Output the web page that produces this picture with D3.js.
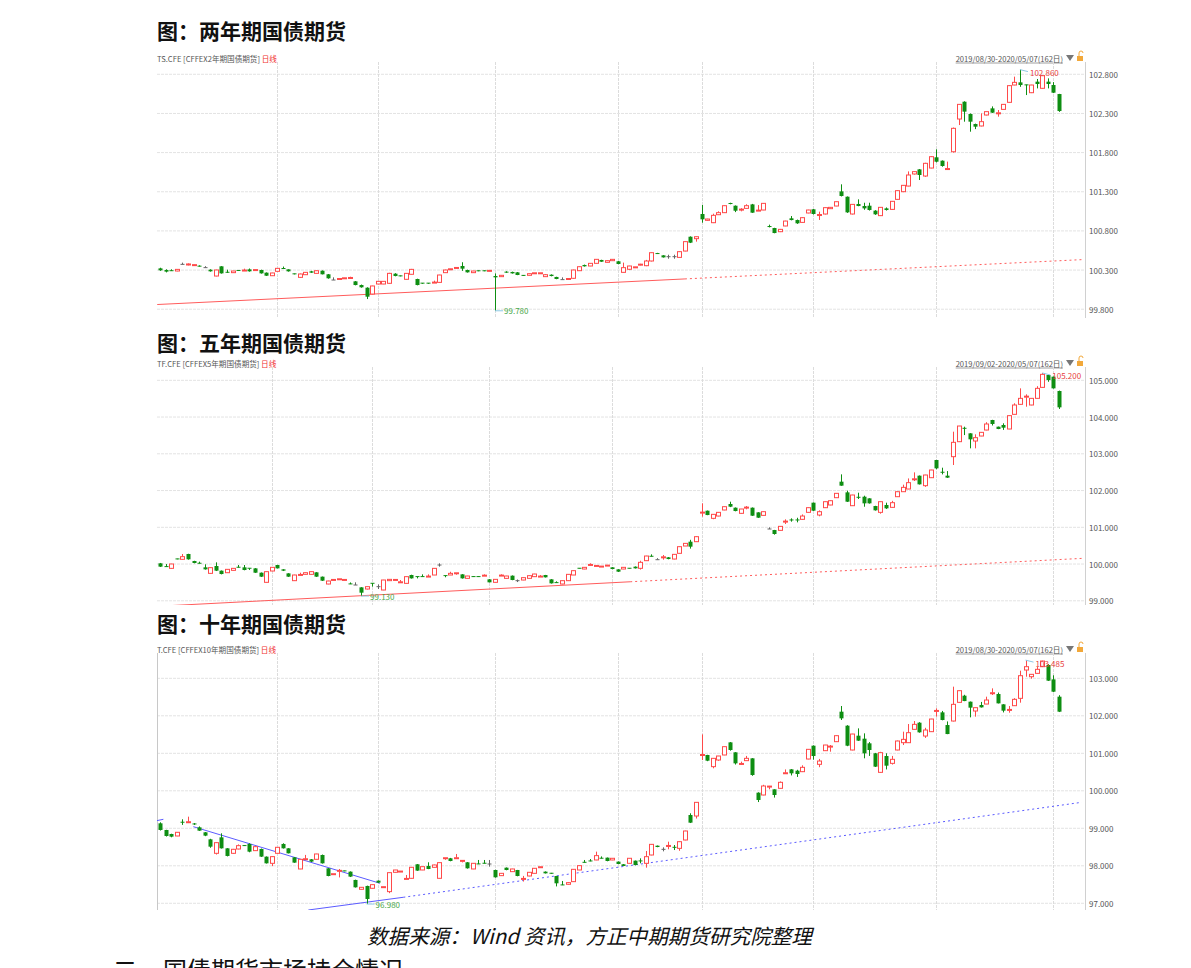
<!DOCTYPE html>
<html lang="zh">
<head>
<meta charset="UTF-8">
<script src="https://d3js.org/d3.v7.min.js"></script>
<title>国债期货日线</title>
<style>
  body { margin: 0; background: #fff; }
  svg text { font-family: "Noto Sans CJK SC", "Noto Sans", sans-serif; }
</style>
</head>
<body>
<script type="text/javascript">

// ---------- data ----------
var tsOpen = [100.322,100.301,100.292,100.288,100.373,100.365,100.360,100.350,100.331,100.305,
100.224,100.348,100.272,100.267,100.295,100.290,100.309,100.296,100.301,100.267,
100.228,100.284,100.320,100.309,100.252,100.207,100.241,100.284,100.258,100.292,
100.246,100.173,100.183,100.192,100.197,100.156,100.109,100.075,99.994,100.122,
100.122,100.131,100.254,100.226,100.182,100.246,100.186,100.133,100.133,100.136,
100.143,100.267,100.307,100.324,100.352,100.301,100.267,100.291,100.291,100.287,
100.224,100.216,100.280,100.276,100.271,100.232,100.233,100.256,100.256,100.216,
100.241,100.212,100.178,100.183,100.195,100.292,100.365,100.352,100.386,100.429,
100.399,100.420,100.412,100.271,100.310,100.332,100.366,100.356,100.416,100.511,
100.488,100.471,100.471,100.462,100.543,100.726,100.701,101.016,100.935,100.905,
101.007,101.033,101.150,101.122,101.069,101.088,101.139,101.056,101.067,100.856,
100.837,100.790,100.863,100.961,100.939,100.909,101.029,101.076,100.999,101.016,
101.084,101.118,101.305,101.237,101.016,101.144,101.118,101.122,101.059,100.995,
101.088,101.075,101.203,101.301,101.373,101.527,101.586,101.501,101.603,101.740,
101.697,101.585,101.811,102.229,102.450,102.293,102.165,102.140,102.280,102.365,
102.299,102.352,102.442,102.663,102.697,102.665,102.565,102.706,102.621,102.706,
102.663,102.548];
var tsClose = [100.297,100.280,100.288,100.309,100.373,100.378,100.363,100.347,100.331,100.284,
100.301,100.258,100.269,100.288,100.292,100.294,100.284,100.300,100.258,100.228,
100.263,100.322,100.316,100.284,100.248,100.250,100.271,100.267,100.292,100.246,
100.195,100.173,100.186,100.195,100.199,100.109,100.080,99.960,100.097,100.156,
100.156,100.258,100.224,100.222,100.258,100.309,100.109,100.129,100.129,100.140,
100.237,100.301,100.310,100.327,100.318,100.271,100.288,100.288,100.288,100.290,
100.207,100.233,100.267,100.258,100.237,100.228,100.254,100.259,100.259,100.241,
100.224,100.186,100.178,100.186,100.301,100.343,100.348,100.386,100.437,100.407,
100.420,100.437,100.378,100.331,100.352,100.335,100.369,100.416,100.522,100.507,
100.462,100.471,100.471,100.535,100.663,100.650,100.726,100.948,100.952,100.999,
101.033,101.122,101.146,101.058,101.072,101.122,101.033,101.059,101.152,100.852,
100.773,100.820,100.926,100.939,100.897,100.969,101.067,101.016,101.003,101.097,
101.101,101.173,101.246,101.037,101.139,101.118,101.088,101.067,101.012,101.101,
101.067,101.178,101.314,101.382,101.514,101.557,101.514,101.663,101.748,101.684,
101.629,101.590,102.110,102.416,102.323,102.195,102.131,102.195,102.323,102.310,
102.302,102.416,102.655,102.697,102.663,102.663,102.663,102.676,102.782,102.676,
102.565,102.331];
var tsHigh = [100.33,100.31,100.31,100.31,100.395,100.385,100.37,100.36,100.35,100.31,
100.305,100.35,100.305,100.29,100.30,100.318,100.32,100.305,100.305,100.27,
100.265,100.325,100.345,100.31,100.255,100.255,100.275,100.29,100.295,100.295,
100.25,100.207,100.19,100.20,100.215,100.16,100.115,100.08,100.10,100.16,
100.16,100.265,100.26,100.23,100.26,100.315,100.19,100.135,100.135,100.165,
100.24,100.305,100.315,100.33,100.40,100.305,100.29,100.295,100.295,100.295,
100.258,100.235,100.285,100.28,100.275,100.235,100.256,100.26,100.26,100.25,
100.245,100.215,100.207,100.19,100.305,100.346,100.37,100.39,100.44,100.432,
100.422,100.44,100.415,100.395,100.355,100.34,100.38,100.43,100.525,100.52,
100.49,100.496,100.496,100.54,100.665,100.73,100.728,101.131,100.955,101.02,
101.05,101.125,101.16,101.125,101.09,101.14,101.145,101.13,101.155,100.88,
100.84,100.825,100.93,100.99,100.945,100.975,101.07,101.08,101.046,101.10,
101.105,101.175,101.395,101.24,101.14,101.203,101.16,101.16,101.065,101.105,
101.10,101.18,101.32,101.385,101.56,101.56,101.59,101.67,101.755,101.842,
101.70,101.685,102.12,102.42,102.455,102.30,102.17,102.301,102.325,102.39,
102.344,102.42,102.66,102.77,102.86,102.668,102.666,102.74,102.785,102.748,
102.70,102.55];
var tsLow = [100.29,100.27,100.288,100.285,100.373,100.36,100.355,100.345,100.331,100.28,
100.22,100.255,100.265,100.265,100.29,100.288,100.28,100.294,100.255,100.225,
100.225,100.28,100.315,100.28,100.245,100.20,100.24,100.265,100.255,100.245,
100.19,100.173,100.18,100.19,100.195,100.105,100.075,99.93,99.99,100.12,
100.12,100.125,100.22,100.22,100.18,100.245,100.105,100.125,100.125,100.135,
100.14,100.265,100.305,100.32,100.29,100.268,100.265,100.285,100.285,100.285,
99.78,100.215,100.265,100.255,100.235,100.225,100.23,100.255,100.255,100.214,
100.22,100.183,100.178,100.18,100.19,100.29,100.345,100.35,100.385,100.405,
100.397,100.418,100.375,100.268,100.30,100.33,100.36,100.35,100.41,100.505,
100.46,100.445,100.445,100.46,100.54,100.645,100.663,100.905,100.93,100.90,
101.005,101.03,101.14,101.04,101.05,101.085,101.03,101.055,101.065,100.845,
100.77,100.785,100.86,100.935,100.89,100.905,101.025,101.01,100.94,101.01,
101.08,101.115,101.24,101.03,101.01,101.115,101.07,101.06,101.005,100.99,
101.06,101.07,101.20,101.295,101.37,101.52,101.45,101.49,101.60,101.675,
101.62,101.585,101.80,102.152,102.195,102.067,102.10,102.135,102.275,102.305,
102.259,102.35,102.44,102.66,102.64,102.535,102.56,102.62,102.618,102.62,
102.56,102.32];

var tfOpen = [100.020,99.931,99.883,100.140,100.129,100.274,100.083,100.022,99.911,99.747,
99.947,99.820,99.765,99.829,99.913,99.911,99.886,99.883,99.765,99.503,
99.811,99.974,99.856,99.747,99.548,99.700,99.720,99.720,99.775,99.657,
99.457,99.564,99.582,99.564,99.460,99.430,99.366,99.321,99.477,99.385,
99.294,99.548,99.564,99.500,99.475,99.702,99.659,99.659,99.655,99.702,
99.974,99.686,99.702,99.745,99.720,99.611,99.659,99.659,99.680,99.584,
99.503,99.682,99.611,99.684,99.548,99.566,99.611,99.657,99.655,99.702,
99.584,99.495,99.457,99.548,99.702,99.886,99.865,99.972,99.945,99.927,
99.954,99.911,99.856,99.865,99.886,99.929,99.884,100.092,100.212,100.119,
100.179,100.183,100.137,100.292,100.491,100.609,100.609,101.396,101.452,101.244,
101.307,101.471,101.634,101.534,101.380,101.532,101.534,101.407,101.325,100.954,
100.926,100.917,101.151,101.200,101.200,101.217,101.407,101.670,101.334,101.534,
101.607,101.806,102.242,101.951,101.588,101.817,101.833,101.788,101.579,101.407,
101.607,101.543,101.833,101.969,102.042,102.303,102.405,102.133,102.350,102.831,
102.498,102.405,102.922,103.330,103.694,103.557,103.348,103.484,103.647,103.920,
103.738,103.784,103.675,104.074,104.346,104.552,104.328,104.509,104.808,105.144,
105.099,104.709];
var tfClose = [99.929,99.927,100.002,100.136,100.201,100.129,100.029,100.018,99.856,99.902,
99.820,99.729,99.856,99.883,99.909,99.838,99.882,99.765,99.657,99.793,
99.911,99.883,99.820,99.657,99.702,99.704,99.765,99.793,99.657,99.548,
99.539,99.568,99.586,99.568,99.457,99.430,99.221,99.385,99.473,99.385,
99.566,99.584,99.568,99.504,99.657,99.611,99.655,99.655,99.659,99.883,
99.974,99.682,99.747,99.749,99.611,99.675,99.655,99.655,99.684,99.503,
99.584,99.686,99.675,99.566,99.548,99.630,99.684,99.729,99.659,99.639,
99.475,99.491,99.548,99.720,99.820,99.882,99.911,99.976,99.949,99.931,
99.958,99.865,99.793,99.911,99.882,99.884,100.047,100.219,100.208,100.119,
100.183,100.137,100.264,100.473,100.563,100.473,100.745,101.400,101.334,101.353,
101.407,101.561,101.561,101.443,101.498,101.536,101.316,101.262,101.425,100.954,
100.818,101.026,101.155,101.196,101.196,101.307,101.534,101.452,101.425,101.697,
101.724,101.924,102.133,101.697,101.879,101.813,101.652,101.652,101.462,101.697,
101.516,101.670,101.969,102.087,102.215,102.306,102.169,102.423,102.559,102.604,
102.494,102.351,103.312,103.756,103.690,103.394,103.439,103.584,103.811,103.811,
103.675,103.711,104.038,104.328,104.509,104.555,104.509,104.781,105.162,105.008,
104.781,104.264];
var tfHigh = [100.03,100.0,100.005,100.145,100.274,100.28,100.09,100.065,99.993,99.905,
100.047,99.825,99.86,99.89,99.974,99.974,99.886,99.89,99.77,99.80,
99.915,99.98,99.86,99.75,99.71,99.765,99.77,99.80,99.78,99.66,
99.545,99.575,99.59,99.575,99.50,99.503,99.37,99.39,99.48,99.448,
99.57,99.59,99.575,99.566,99.66,99.71,99.66,99.72,99.72,99.89,
100.02,99.69,99.79,99.75,99.725,99.68,99.665,99.665,99.72,99.59,
99.59,99.72,99.68,99.69,99.58,99.635,99.69,99.735,99.70,99.705,
99.59,99.53,99.55,99.725,99.825,99.89,99.915,100.02,99.95,99.935,
99.96,99.915,99.86,99.915,99.89,99.935,100.09,100.225,100.264,100.16,
100.246,100.19,100.27,100.48,100.57,100.66,100.755,101.652,101.455,101.36,
101.41,101.565,101.697,101.54,101.50,101.58,101.54,101.41,101.43,100.999,
100.93,101.03,101.217,101.244,101.26,101.35,101.54,101.675,101.46,101.70,
101.73,101.93,102.441,101.996,101.885,101.942,101.86,101.79,101.585,101.70,
101.67,101.72,101.975,102.16,102.33,102.495,102.41,102.43,102.565,102.835,
102.622,102.53,103.602,103.76,103.738,103.56,103.53,103.59,103.86,103.925,
103.74,103.83,104.045,104.375,104.781,104.618,104.515,104.84,105.20,105.15,
105.10,104.72];
var tfLow = [99.92,99.925,99.88,100.13,100.125,100.12,100.02,100.015,99.85,99.74,
99.81,99.72,99.76,99.825,99.905,99.83,99.84,99.76,99.65,99.50,
99.805,99.88,99.81,99.65,99.54,99.70,99.715,99.715,99.65,99.54,
99.45,99.56,99.58,99.56,99.455,99.43,99.13,99.31,99.385,99.321,
99.29,99.545,99.56,99.50,99.47,99.605,99.61,99.65,99.65,99.70,
99.929,99.64,99.70,99.71,99.605,99.605,99.65,99.65,99.68,99.50,
99.50,99.68,99.605,99.56,99.51,99.56,99.605,99.65,99.65,99.635,
99.47,99.49,99.45,99.545,99.70,99.88,99.86,99.97,99.94,99.925,
99.95,99.86,99.785,99.86,99.88,99.88,99.85,100.09,100.205,100.119,
100.119,100.13,100.13,100.29,100.49,100.42,100.60,101.29,101.33,101.22,
101.30,101.465,101.55,101.435,101.37,101.49,101.31,101.255,101.32,100.954,
100.80,100.915,101.09,101.153,101.135,101.21,101.40,101.445,101.30,101.53,
101.60,101.80,102.13,101.69,101.58,101.77,101.56,101.645,101.455,101.37,
101.50,101.54,101.83,101.965,102.04,102.26,102.165,102.10,102.345,102.58,
102.44,102.345,102.695,103.32,103.51,103.149,103.149,103.48,103.64,103.77,
103.67,103.65,103.67,104.07,104.34,104.282,104.32,104.505,104.80,104.96,
104.775,104.22];

var tOpen = [99.133,98.955,98.848,98.795,99.162,99.158,99.116,99.026,98.893,98.706,
98.333,98.759,98.466,98.333,98.448,98.539,98.582,98.404,98.448,98.244,
98.066,98.333,98.582,98.466,98.226,97.915,98.171,98.173,98.173,98.288,
97.933,97.772,97.861,97.864,97.844,97.622,97.373,97.462,97.400,97.604,
97.426,97.311,97.826,97.842,97.646,97.666,98.040,97.888,97.995,97.959,
97.666,98.198,98.200,98.198,98.127,98.093,97.915,98.050,98.068,98.048,
97.888,97.737,97.950,97.844,97.888,97.646,97.728,97.799,97.958,97.844,
97.801,97.728,97.490,97.506,97.577,97.888,98.093,98.129,98.155,98.202,
98.217,98.155,98.111,98.040,98.066,98.137,98.130,98.066,98.288,98.536,
98.439,98.525,98.493,98.465,98.688,99.354,99.328,100.951,100.955,100.644,
100.821,100.955,101.292,101.026,100.712,100.804,100.866,99.950,99.888,100.108,
100.039,100.066,100.464,100.572,100.537,100.510,100.848,101.203,100.706,101.070,
101.175,101.310,102.110,101.737,101.088,101.470,101.390,101.266,101.000,100.492,
100.928,100.732,101.088,101.283,101.283,101.639,101.817,101.461,101.577,102.126,
102.092,101.754,101.861,102.359,102.537,102.377,102.128,102.288,102.314,102.598,
102.581,102.306,102.153,102.270,102.466,103.221,103.043,103.132,103.310,103.355,
102.972,102.510];
var tClose = [98.955,98.795,98.777,98.893,99.158,99.162,99.112,98.937,98.804,98.510,
98.617,98.466,98.262,98.440,98.537,98.535,98.377,98.510,98.244,98.066,
98.244,98.493,98.466,98.333,98.084,98.173,98.175,98.111,98.315,98.066,
97.728,97.776,97.865,97.860,97.711,97.426,97.426,97.115,97.497,97.551,
97.430,97.817,97.888,97.846,97.650,97.960,97.871,97.977,97.915,98.022,
98.084,98.202,98.128,98.202,98.131,97.933,98.066,98.046,98.064,98.048,
97.693,97.799,97.888,97.915,97.728,97.650,97.826,97.933,97.962,97.799,
97.797,97.533,97.486,97.551,97.906,98.004,98.089,98.125,98.271,98.198,
98.128,98.200,98.048,97.995,98.200,98.021,98.126,98.243,98.572,98.501,
98.439,98.529,98.489,98.643,98.928,99.150,99.692,100.955,100.803,100.866,
100.928,101.177,101.088,100.732,100.716,100.866,100.421,99.755,100.128,100.112,
99.888,100.226,100.468,100.466,100.448,100.626,101.106,100.928,100.794,101.221,
101.179,101.470,101.932,101.203,101.514,101.337,101.000,101.088,100.644,101.017,
100.670,100.839,101.328,101.372,101.550,101.772,101.559,101.621,101.914,102.130,
101.888,101.514,102.306,102.670,102.394,102.217,102.217,102.225,102.421,102.602,
102.332,102.137,102.157,102.439,103.070,103.310,103.106,103.239,103.461,102.937,
102.643,102.110];
var tHigh = [99.16,98.96,98.855,98.90,99.24,99.31,99.14,99.05,98.90,98.72,
98.63,98.866,98.47,98.45,98.57,98.55,98.60,98.52,98.46,98.25,
98.25,98.50,98.60,98.47,98.23,98.18,98.29,98.18,98.32,98.30,
97.94,97.78,97.915,97.87,97.85,97.63,97.43,97.47,97.50,97.61,
97.44,97.82,97.89,97.85,97.755,97.965,98.045,97.98,98.093,98.03,
98.09,98.205,98.21,98.315,98.135,98.10,98.07,98.155,98.155,98.155,
97.895,97.805,97.955,97.92,97.89,97.73,97.83,97.94,97.97,97.85,
97.81,97.73,97.595,97.56,97.91,98.01,98.155,98.18,98.377,98.25,
98.22,98.205,98.115,98.045,98.205,98.14,98.199,98.394,98.58,98.54,
98.492,98.643,98.554,98.65,98.935,99.40,99.70,101.505,100.96,100.87,
100.93,101.18,101.30,101.03,100.777,100.93,100.87,99.96,100.16,100.13,
100.04,100.25,100.57,100.58,100.56,100.68,101.11,101.21,100.85,101.225,
101.221,101.475,102.261,101.75,101.52,101.665,101.532,101.30,101.01,101.04,
101.0,100.93,101.34,101.577,101.781,101.861,101.83,101.68,101.92,102.199,
102.13,101.85,102.777,102.675,102.56,102.38,102.22,102.37,102.51,102.732,
102.62,102.31,102.261,102.47,103.203,103.485,103.11,103.30,103.47,103.38,
103.08,102.55];
var tLow = [98.94,98.78,98.76,98.79,99.09,99.14,99.09,98.93,98.79,98.48,
98.30,98.46,98.25,98.32,98.44,98.53,98.36,98.40,98.235,98.06,
97.99,98.33,98.46,98.33,98.08,97.91,98.165,98.10,98.17,98.06,
97.72,97.77,97.69,97.855,97.70,97.42,97.37,96.98,97.395,97.545,
97.42,97.27,97.82,97.84,97.645,97.66,97.865,97.885,97.91,97.955,
97.66,98.16,98.12,98.195,98.09,97.925,97.91,98.045,98.06,97.977,
97.685,97.73,97.88,97.84,97.72,97.58,97.72,97.795,97.955,97.795,
97.79,97.45,97.485,97.50,97.57,97.885,98.085,98.12,98.15,98.195,
98.12,98.15,98.04,97.99,98.06,98.01,98.066,97.95,98.28,98.495,
98.385,98.44,98.42,98.40,98.68,99.14,99.26,100.82,100.79,100.60,
100.80,100.95,101.07,100.70,100.69,100.80,100.40,99.70,99.88,100.04,
99.82,100.06,100.46,100.41,100.37,100.50,100.84,100.83,100.63,101.065,
101.043,101.305,101.888,101.19,101.08,101.33,100.866,100.93,100.635,100.48,
100.57,100.70,101.08,101.221,101.28,101.635,101.55,101.41,101.57,101.977,
101.88,101.51,101.85,102.355,102.39,101.959,101.977,102.22,102.31,102.555,
102.33,102.09,102.083,102.265,102.35,103.043,102.99,103.13,103.30,102.93,
102.63,102.10];

// y-axis ticks
var tsTicks = [99.8, 100.3, 100.8, 101.3, 101.8, 102.3, 102.8];
var tfTicks = [99, 100, 101, 102, 103, 104, 105];
var tTicks  = [97, 98, 99, 100, 101, 102, 103];

// month-start candle index (vertical grid lines)
var tsMonths = [21, 39, 60, 82, 97, 117, 139, 160];
var tfMonths = [20, 38, 59, 81, 97, 117, 139, 160];
var tMonths  = [21, 39, 60, 82, 97, 117, 139, 160];

// trend lines: [index1, value1, index2, value2, dotted]
var tsTrend = [[-0.5, 99.86, 94, 100.187, 0], [94, 100.187, 165.3, 100.434, 1]];
var tfTrend = [[-0.5, 98.851, 84.2, 99.518, 0], [84.2, 99.518, 165.3, 100.156, 1]];
var tTrend  = [[-0.6, 99.203, 0.6, 99.240, 0], [5.97, 99.043, 39.4, 97.533, 0],
               [26.56, 96.821, 43.57, 97.16, 0], [43.57, 97.16, 165.06, 99.693, 1]];

// extreme marks: [index of max, max label, index of min, min label]
var tsMarks = [154, "102.860", 60, "99.780"];
var tfMarks = [158, "105.200", 36, "99.130"];
var tMarks  = [155, "103.485", 37, "96.980"];

// ---------- layout ----------
var width = 1191, height = 968;
var left = 157, right = 1085;
var RED = "#ff4a4a", GREEN = "#0e8e12", GRAY = "#666";

var panels = [
  {title: "图：两年期国债期货", code: "TS.CFE", name: "[CFFEX2年期国债期货]",
   range: "2019/08/30-2020/05/07(162日)", titleY: 30, headY: 58, top: 62, bottom: 318,
   domain: [99.688, 102.957], ticks: tsTicks, months: tsMonths, trend: tsTrend, marks: tsMarks,
   o: tsOpen, c: tsClose, h: tsHigh, l: tsLow, lineColor: "#ff5c5c", leftLine: false},
  {title: "图：五年期国债期货", code: "TF.CFE", name: "[CFFEX5年期国债期货]",
   range: "2019/09/02-2020/05/07(162日)", titleY: 342, headY: 363, top: 367, bottom: 605,
   domain: [98.886, 105.362], ticks: tfTicks, months: tfMonths, trend: tfTrend, marks: tfMarks,
   o: tfOpen, c: tfClose, h: tfHigh, l: tfLow, lineColor: "#ff5c5c", leftLine: false},
  {title: "图：十年期国债期货", code: "T.CFE", name: "[CFFEX10年期国债期货]",
   range: "2019/08/30-2020/05/07(162日)", titleY: 623, headY: 649, top: 653, bottom: 910,
   domain: [96.821, 103.675], ticks: tTicks, months: tMonths, trend: tTrend, marks: tMarks,
   o: tOpen, c: tClose, h: tHigh, l: tLow, lineColor: "#5b5bff", leftLine: true}
];

var svg = d3.select("body").append("svg")
  .attr("width", width).attr("height", height)
  .style("display", "block");

svg.append("rect").attr("width", width).attr("height", height).attr("fill", "#fff");

var x = d3.scaleLinear().domain([-0.54, 165.65]).range([left, right]);
var fmt = d3.format(".3f");

panels.forEach(function(p, pi) {
  var y = d3.scaleLinear().domain(p.domain).range([p.bottom, p.top]);
  var g = svg.append("g");

  // title
  g.append("text").attr("x", left).attr("y", p.titleY)
    .attr("dominant-baseline", "central")
    .attr("font-size", 21).attr("font-weight", 700).attr("fill", "#111")
    .text(p.title);

  // header
  var head = g.append("text").attr("x", left).attr("y", p.headY)
    .attr("dominant-baseline", "central").attr("font-size", 7.6).attr("fill", "#555");
  head.append("tspan").text(p.code + "  " + p.name + " ");
  head.append("tspan").attr("fill", "#f03030").text("日线");

  var rt = g.append("text").attr("x", 1063).attr("y", p.headY)
    .attr("dominant-baseline", "central").attr("text-anchor", "end")
    .attr("font-size", 7.6).attr("fill", "#555").text(p.range);
  var bb = rt.node().getBBox();
  g.append("line").attr("x1", bb.x).attr("x2", bb.x + bb.width)
    .attr("y1", p.headY + 5).attr("y2", p.headY + 5)
    .attr("stroke", "#777").attr("stroke-width", 0.7);
  g.append("path")
    .attr("d", "M1066," + (p.headY - 3) + "L1074," + (p.headY - 3) + "L1070," + (p.headY + 3) + "Z")
    .attr("fill", "#777");
  g.append("rect").attr("x", 1077).attr("y", p.headY - 2).attr("width", 6).attr("height", 5)
    .attr("fill", "#f2a83a");
  g.append("path")
    .attr("d", "M1079," + (p.headY - 2) + "V" + (p.headY - 5) + "a2,2 0 0 1 4,0")
    .attr("fill", "none").attr("stroke", "#f2a83a").attr("stroke-width", 1);

  // horizontal grid + tick labels
  g.selectAll(".hg").data(p.ticks).enter().append("line")
    .attr("x1", left).attr("x2", right)
    .attr("y1", function(d) { return y(d); }).attr("y2", function(d) { return y(d); })
    .attr("stroke", "#e3e3e3").attr("stroke-width", 1).attr("stroke-dasharray", "3,1");
  g.selectAll(".tl").data(p.ticks).enter().append("text")
    .attr("x", right + 4).attr("y", function(d) { return y(d); })
    .attr("dominant-baseline", "central").attr("font-size", 8).attr("fill", "#555")
    .attr("font-family", "Liberation Sans, Arial, sans-serif")
    .text(function(d) { return fmt(d); });

  // vertical grid
  g.selectAll(".vg").data(p.months).enter().append("line")
    .attr("x1", function(d) { return Math.round(x(d)) + 0.5; })
    .attr("x2", function(d) { return Math.round(x(d)) + 0.5; })
    .attr("y1", p.top).attr("y2", p.bottom)
    .attr("stroke", "#dcdcdc").attr("stroke-width", 1).attr("stroke-dasharray", "3,1");

  // right axis line
  g.append("line").attr("x1", right + 0.5).attr("x2", right + 0.5)
    .attr("y1", p.top).attr("y2", p.bottom).attr("stroke", "#d0d0d0");
  if (p.leftLine) {
    g.append("line").attr("x1", left + 0.5).attr("x2", left + 0.5)
      .attr("y1", p.top).attr("y2", p.bottom).attr("stroke", "#c8c8c8");
  }

  // clip
  var clipId = "clip" + pi;
  svg.append("clipPath").attr("id", clipId).append("rect")
    .attr("x", left).attr("y", p.top).attr("width", right - left).attr("height", p.bottom - p.top);
  var plot = g.append("g").attr("clip-path", "url(#" + clipId + ")");

  // trend lines
  plot.selectAll(".tr").data(p.trend).enter().append("line")
    .attr("x1", function(d) { return x(d[0]); }).attr("y1", function(d) { return y(d[1]); })
    .attr("x2", function(d) { return x(d[2]); }).attr("y2", function(d) { return y(d[3]); })
    .attr("stroke", p.lineColor).attr("stroke-width", 1)
    .attr("stroke-dasharray", function(d) { return d[4] ? "2,3" : null; });

  // candles
  var idx = d3.range(p.o.length);
  function col(i) {
    if (p.c[i] > p.o[i]) return RED;
    if (p.c[i] < p.o[i]) return GREEN;
    return GRAY;
  }
  var cg = plot.selectAll(".cd").data(idx).enter().append("g");
  cg.append("line")
    .attr("x1", function(i) { return Math.round(x(i)) + 0.5; })
    .attr("x2", function(i) { return Math.round(x(i)) + 0.5; })
    .attr("y1", function(i) { return y(p.h[i]); })
    .attr("y2", function(i) { return y(p.l[i]); })
    .attr("stroke", col).attr("stroke-width", 1);
  cg.append("rect")
    .attr("x", function(i) { return Math.round(x(i)) - 1.5; })
    .attr("width", 4)
    .attr("y", function(i) {
      var t = y(Math.max(p.o[i], p.c[i]));
      var b = y(Math.min(p.o[i], p.c[i]));
      return b - t < 1 ? t - 0.5 : t;
    })
    .attr("height", function(i) {
      var hh = Math.abs(y(p.o[i]) - y(p.c[i]));
      return Math.max(1, hh);
    })
    .attr("fill", function(i) { return p.c[i] > p.o[i] ? "#fff" : col(i); })
    .attr("stroke", function(i) { return p.c[i] > p.o[i] ? RED : "none"; })
    .attr("stroke-width", 1);

  // max / min labels
  var mi = p.marks[0], ni = p.marks[2];
  var mx = x(mi), my = y(p.h[mi]);
  g.append("line").attr("x1", mx).attr("y1", my).attr("x2", mx + 8).attr("y2", my + 2)
    .attr("stroke", "#8ec9e6").attr("stroke-width", 1);
  g.append("text").attr("x", mx + 10).attr("y", my + 3)
    .attr("dominant-baseline", "central").attr("font-size", 8).attr("fill", "#e84040")
    .attr("font-family", "Liberation Sans, Arial, sans-serif")
    .text(p.marks[1]);
  var nx = x(ni), ny = y(p.l[ni]);
  g.append("line").attr("x1", nx).attr("y1", ny).attr("x2", nx + 8).attr("y2", ny)
    .attr("stroke", "#8ec9e6").attr("stroke-width", 1);
  g.append("text").attr("x", nx + 9).attr("y", ny)
    .attr("dominant-baseline", "central").attr("font-size", 8).attr("fill", "#4aa84a")
    .attr("font-family", "Liberation Sans, Arial, sans-serif")
    .text(p.marks[3]);
});

// source note and next heading (the heading is cut by the page edge, as in the original)
svg.append("text").attr("x", 367).attr("y", 935)
  .attr("dominant-baseline", "central").attr("font-size", 20.6)
  .attr("font-style", "italic").attr("fill", "#111")
  .text("数据来源：Wind 资讯，方正中期期货研究院整理");

svg.append("text").attr("x", 113).attr("y", 979)
  .attr("font-size", 24).attr("fill", "#111").text("二");
svg.append("text").attr("x", 163).attr("y", 979)
  .attr("font-size", 24).attr("fill", "#111").text("国债期货市场持仓情况");

</script>
</body>
</html>
